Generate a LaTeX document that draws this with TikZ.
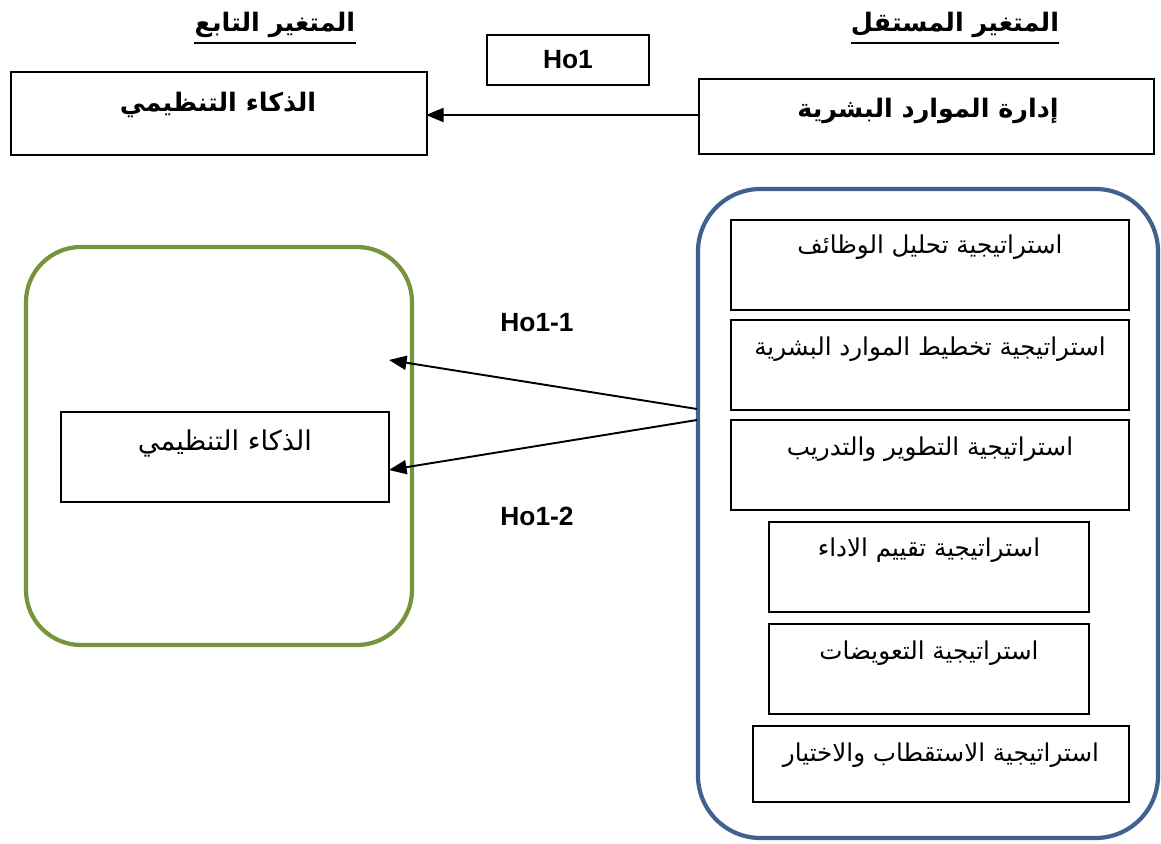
\documentclass[tikz,border=0pt]{standalone}
\usepackage{fontspec}
\setmainfont{Liberation Sans}
\newfontfamily\arabicfont[Script=Arabic]{DejaVu Sans}
\TeXXeTstate=1
\usetikzlibrary{arrows.meta}
\definecolor{bluebord}{HTML}{41628F}
\definecolor{greenbord}{HTML}{77933C}
\tikzset{
  box/.style={draw=black, line width=1.1pt, anchor=north west, inner sep=0pt},
  arr/.style={-{Triangle[length=10pt,width=8pt]}, line width=1.1pt},
  ar/.style={font=\arabicfont\fontsize{14}{17}\selectfont, inner sep=0pt},
  arl/.style={font=\arabicfont\fontsize{15.5}{18}\selectfont, inner sep=0pt},
  arb/.style={font=\arabicfont\bfseries\fontsize{14.5}{17}\selectfont, inner sep=0pt},
  lat/.style={font=\bfseries\fontsize{15}{18}\selectfont, inner sep=0pt},
}
\begin{document}
\begin{tikzpicture}[x=0.02cm,y=-0.02cm]
\useasboundingbox (0,0) rectangle (1161,844);
% titles
\node[arb] (t1) at (275,25) {\beginR المتغير التابع\endR};
\draw[line width=1.1pt] ([yshift=-3pt]t1.south west) -- ([yshift=-3pt]t1.south east);
\node[arb] (t2) at (955,25) {\beginR المتغير المستقل\endR};
\draw[line width=1.1pt] ([yshift=-3pt]t2.south west) -- ([yshift=-3pt]t2.south east);
% Ho1
\node[box, minimum width=162*0.02cm, minimum height=50*0.02cm] (ho) at (486,34) {};
\node[lat] at (ho.center) {Ho1};
% top boxes
\node[box, minimum width=416*0.02cm, minimum height=83*0.02cm] (dep) at (10,71) {};
\node[arb] (deptxt) at (218,105) {\beginR الذكاء التنظيمي\endR};
\node[box, minimum width=455*0.02cm, minimum height=75*0.02cm] (ind) at (698,78) {};
\node[arb] (indtxt) at (928,111) {\beginR إدارة الموارد البشرية\endR};
\coordinate (depin) at (426,115);
\draw[arr] (ind.west |- depin) -- (depin);
% big rounded boxes
\draw[bluebord, line width=2.4pt, rounded corners=1.25cm] (698,189) rectangle (1158,838);
\draw[greenbord, line width=2.4pt, rounded corners=1.1cm] (26,247) rectangle (412,645);
% strategy boxes
\node[box, minimum width=398*0.02cm, minimum height=90*0.02cm] (s1) at (730,219) {};
\node[ar] at ([yshift=-0.56cm]s1.north) {\beginR استراتيجية تحليل الوظائف\endR};
\node[box, minimum width=398*0.02cm, minimum height=90*0.02cm] (s2) at (730,319) {};
\node[ar] at ([yshift=-0.6cm]s2.north) {\beginR استراتيجية تخطيط الموارد البشرية\endR};
\node[box, minimum width=398*0.02cm, minimum height=90*0.02cm] (s3) at (730,419) {};
\node[ar] at ([yshift=-0.6cm]s3.north) {\beginR استراتيجية التطوير والتدريب\endR};
\node[box, minimum width=320*0.02cm, minimum height=90*0.02cm] (s4) at (768,521) {};
\node[ar] at ([yshift=-0.58cm]s4.north) {\beginR استراتيجية تقييم الاداء\endR};
\node[box, minimum width=320*0.02cm, minimum height=90*0.02cm] (s5) at (768,623) {};
\node[ar] at ([yshift=-0.6cm]s5.north) {\beginR استراتيجية التعويضات\endR};
\node[box, minimum width=376*0.02cm, minimum height=76*0.02cm] (s6) at (752,725) {};
\node[ar] at ([yshift=-0.6cm]s6.north) {\beginR استراتيجية الاستقطاب والاختيار\endR};
% left inner box
\node[box, minimum width=328*0.02cm, minimum height=90*0.02cm] (oi) at (60,411) {};
\node[arl] at ([yshift=-0.64cm]oi.north) {\beginR الذكاء التنظيمي\endR};
% arrows
\coordinate (a1s) at (697,409);
\coordinate (a1e) at (389,360);
\coordinate (a2s) at (697,420);
\coordinate (a2e) at (389,470);
\draw[arr] (a1s) -- (a1e);
\draw[arr] (a2s) -- (a2e);
\node[lat] (h11) at (537,323) {Ho1-1};
\node[lat] (h12) at (537,516) {Ho1-2};
\end{tikzpicture}
\end{document}
